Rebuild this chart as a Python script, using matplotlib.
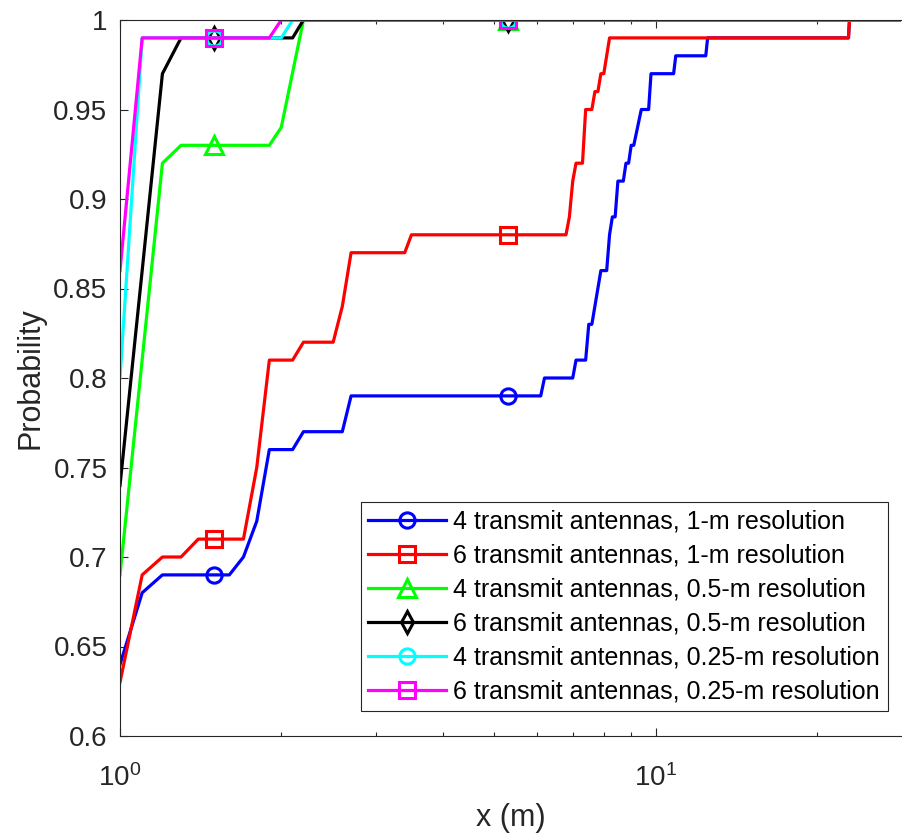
import matplotlib
matplotlib.use("Agg")
import matplotlib.pyplot as plt
from matplotlib.ticker import LogLocator, NullFormatter

plt.rcParams['font.family'] = ['Liberation Sans', 'DejaVu Sans']
plt.rcParams['mathtext.default'] = 'regular'

# x in metres, y = cumulative probability
x_4tx_1m = [1.0, 1.1, 1.2, 1.5, 1.6, 1.7, 1.8, 1.9, 2.1, 2.2, 2.6, 2.7, 5.3, 6.1, 6.2,
            7.0, 7.1, 7.4, 7.5, 7.6, 7.9, 8.1, 8.2, 8.3, 8.4, 8.5, 8.7, 8.8, 8.9, 9.0,
            9.1, 9.4, 9.7, 9.8, 10.8, 10.9, 12.4, 12.5, 22.9, 23.0, 28.7]
p_4tx_1m = [0.64, 0.68, 0.69, 0.69, 0.69, 0.70, 0.72, 0.76, 0.76, 0.77, 0.77, 0.79, 0.79, 0.79, 0.80,
            0.80, 0.81, 0.81, 0.83, 0.83, 0.86, 0.86, 0.88, 0.89, 0.89, 0.91, 0.91, 0.92, 0.92, 0.93,
            0.93, 0.95, 0.95, 0.97, 0.97, 0.98, 0.98, 0.99, 0.99, 1.0, 1.0]

x_6tx_1m = [1.0, 1.1, 1.2, 1.3, 1.4, 1.5, 1.7, 1.8, 1.9, 2.1, 2.2, 2.5, 2.6, 2.7, 3.4, 3.5,
            5.3, 6.8, 6.9, 7.0, 7.1, 7.3, 7.4, 7.6, 7.7, 7.8, 7.9, 8.0, 8.2, 22.9, 23.0, 28.7]
p_6tx_1m = [0.63, 0.69, 0.70, 0.70, 0.71, 0.71, 0.71, 0.75, 0.81, 0.81, 0.82, 0.82, 0.84, 0.87, 0.87, 0.88,
            0.88, 0.88, 0.89, 0.91, 0.92, 0.92, 0.95, 0.95, 0.96, 0.96, 0.97, 0.97, 0.99, 0.99, 1.0, 1.0]

x_4tx_05m = [1.0, 1.2, 1.3, 1.5, 1.9, 2.0, 2.2, 5.3, 28.7]
p_4tx_05m = [0.69, 0.92, 0.93, 0.93, 0.93, 0.94, 1.0, 1.0, 1.0]

x_6tx_05m = [1.0, 1.1, 1.2, 1.3, 1.5, 2.1, 2.2, 5.3, 28.7]
p_6tx_05m = [0.74, 0.86, 0.97, 0.99, 0.99, 0.99, 1.0, 1.0, 1.0]

x_4tx_025m = [1.0, 1.1, 1.5, 2.0, 2.1, 5.3, 28.7]
p_4tx_025m = [0.80, 0.99, 0.99, 0.99, 1.0, 1.0, 1.0]

x_6tx_025m = [1.0, 1.1, 1.5, 1.9, 2.0, 5.3, 28.7]
p_6tx_025m = [0.86, 0.99, 0.99, 0.99, 1.0, 1.0, 1.0]

labels = ['4 transmit antennas, 1-m resolution',
          '6 transmit antennas, 1-m resolution',
          '4 transmit antennas, 0.5-m resolution',
          '6 transmit antennas, 0.5-m resolution',
          '4 transmit antennas, 0.25-m resolution',
          '6 transmit antennas, 0.25-m resolution']
marker_x = [1.5, 5.3]

yticks = [0.6, 0.65, 0.7, 0.75, 0.8, 0.85, 0.9, 0.95, 1.0]
ytick_labels = ['0.6', '0.65', '0.7', '0.75', '0.8', '0.85', '0.9', '0.95', '1']

series = [(x_4tx_1m, p_4tx_1m, 'blue', 'o', 11),
          (x_6tx_1m, p_6tx_1m, 'red', 's', 11),
          (x_4tx_05m, p_4tx_05m, 'lime', '^', 13),
          (x_6tx_05m, p_6tx_05m, 'black', 'd', 11),
          (x_4tx_025m, p_4tx_025m, 'cyan', 'o', 11),
          (x_6tx_025m, p_6tx_025m, 'magenta', 's', 11)]

fig = plt.figure(figsize=(9.02, 8.4), dpi=100)
ax = fig.add_axes([120 / 902, 104 / 840, 781 / 902, 716 / 840])

for (xs, ys, c, m, ms), lab in zip(series, labels):
    idx = [xs.index(v) for v in marker_x]
    ax.plot(xs, ys, color=c, lw=2.3, marker=m, ms=ms, mew=2.2, mfc='none',
            markevery=idx, label=lab)

ax.set_xscale('log')
ax.set_xlim(1, 28.7)
ax.set_ylim(0.6, 1.0)
ax.set_yticks(yticks)
ax.set_yticklabels(ytick_labels)
ax.xaxis.set_major_locator(LogLocator(base=10))
ax.xaxis.set_minor_locator(LogLocator(base=10, subs=range(2, 10)))
ax.xaxis.set_minor_formatter(NullFormatter())

dark = '#262626'
ax.tick_params(which='both', direction='in', top=True, right=False,
               colors=dark, labelsize=20)
ax.tick_params(which='major', length=6, width=0.8)
ax.tick_params(which='minor', length=3, width=0.8)
ax.tick_params(axis='x', which='major', pad=20)
ax.tick_params(axis='y', which='major', pad=9)
for s in ['left', 'bottom', 'top']:
    ax.spines[s].set_color(dark)
    ax.spines[s].set_linewidth(0.8)
ax.spines['right'].set_visible(False)

ax.set_xlabel('x (m)', fontsize=22, color=dark, labelpad=8)
ax.set_ylabel('Probability', fontsize=22, color=dark, labelpad=6)

leg = ax.legend(loc='lower right', bbox_to_anchor=(0.983, 0.035), borderaxespad=0,
                fontsize=18, handlelength=3.1, handletextpad=0.3, labelspacing=0.4,
                borderpad=0.3, fancybox=False, framealpha=1, edgecolor=dark)
leg.get_frame().set_linewidth(0.8)

fig.savefig('out.png', dpi=100)
